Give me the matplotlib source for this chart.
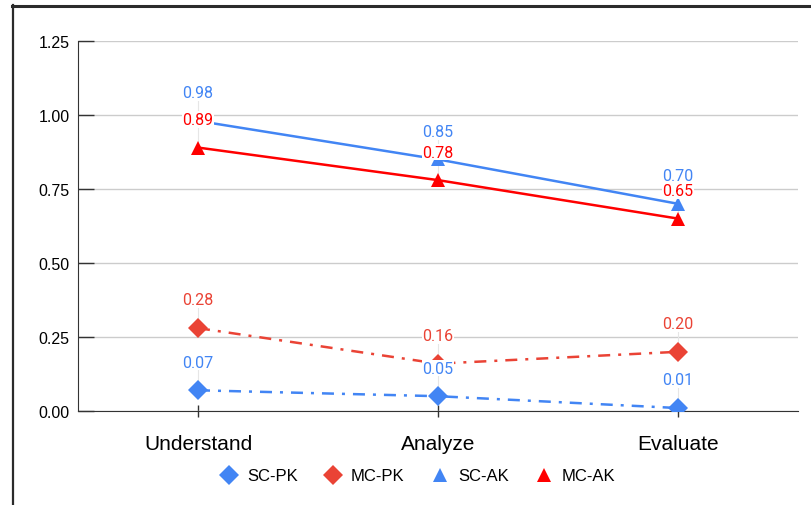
# Line chart of PK / AK scores across three cognitive levels
import matplotlib.pyplot as plt
from matplotlib.lines import Line2D

# Data
levels = ["Understand", "Analyze", "Evaluate"]
sc_pk = [0.07, 0.05, 0.01]
mc_pk = [0.28, 0.16, 0.20]
sc_ak = [0.98, 0.85, 0.70]
mc_ak = [0.89, 0.78, 0.65]
y_ticks = [0.00, 0.25, 0.50, 0.75, 1.00, 1.25]

BLUE = "#4285F4"
RED_PK = "#EA4335"
RED_AK = "#FF0000"

series = [
    ("SC-PK", sc_pk, BLUE, "D", (0, (4.8, 3.2, 1.2, 3.2))),
    ("MC-PK", mc_pk, RED_PK, "D", (0, (4.8, 3.2, 1.2, 3.2))),
    ("SC-AK", sc_ak, BLUE, "^", "-"),
    ("MC-AK", mc_ak, RED_AK, "^", "-"),
]

fig = plt.figure(figsize=(8.11, 5.06), dpi=100)
ax = fig.add_axes([78 / 811, 1 - 412 / 506, 720 / 811, 370 / 506])

x = list(range(len(levels)))
label_off = 0.095  # data units above each point

handles = []
for name, vals, color, marker, ls in series:
    ax.plot(x, vals, color=color, lw=1.8, ls=ls, marker=marker,
            markersize=10, markeredgewidth=0, zorder=3)
    # faint connector from point up to its label
    ax.vlines(x, vals, [v + label_off - 0.02 for v in vals],
              color="#e6e6e6", lw=0.8, zorder=1)
    handles.append(Line2D([], [], ls="none", marker=marker, color=color,
                          markersize=10, markeredgewidth=0, label=name))

for name, vals, color, marker, ls in series:
    for xi, v in zip(x, vals):
        ax.text(xi, v + label_off, f"{v:.2f}", color=color, ha="center",
                va="center", fontsize=11.5, family="Roboto", zorder=5,
                bbox=dict(boxstyle="square,pad=0.05", fc="white", ec="none"))

# Axes styling
ax.set_xlim(-0.5, 2.5)
ax.set_ylim(0, 1.25)
ax.set_xticks(x)
ax.set_xticklabels(levels, fontsize=15, family="Liberation Sans")
ax.set_yticks(y_ticks)
ax.set_yticklabels([f"{t:.2f}" for t in y_ticks], fontsize=11.5,
                   family="Liberation Sans")
ax.grid(axis="y", color="#cccccc", lw=1)
ax.set_axisbelow(True)
for s in ["top", "right"]:
    ax.spines[s].set_visible(False)
ax.spines["left"].set_color("#333333")
ax.spines["bottom"].set_color("#333333")
ax.tick_params(axis="y", direction="in", length=11.5, width=1,
               color="#333333", pad=6)
ax.tick_params(axis="x", direction="inout", length=9, width=1,
               color="#333333", pad=12)

fig.legend(handles=handles, loc="center", bbox_to_anchor=(418 / 811, 1 - 477 / 506),
           ncol=4, frameon=False, handlelength=1.0, handletextpad=0.6,
           columnspacing=1.6, prop={"family": "Liberation Sans", "size": 12})

# Window frame edges
fig.add_artist(Line2D([12.5 / 811, 12.5 / 811], [0, 1 - 6 / 506],
                      transform=fig.transFigure, color="#2b2b2b", lw=1.6))
fig.add_artist(Line2D([12 / 811, 1], [1 - 7 / 506, 1 - 7 / 506],
                      transform=fig.transFigure, color="#2b2b2b", lw=2.2))

fig.savefig("out.png", dpi=100)
